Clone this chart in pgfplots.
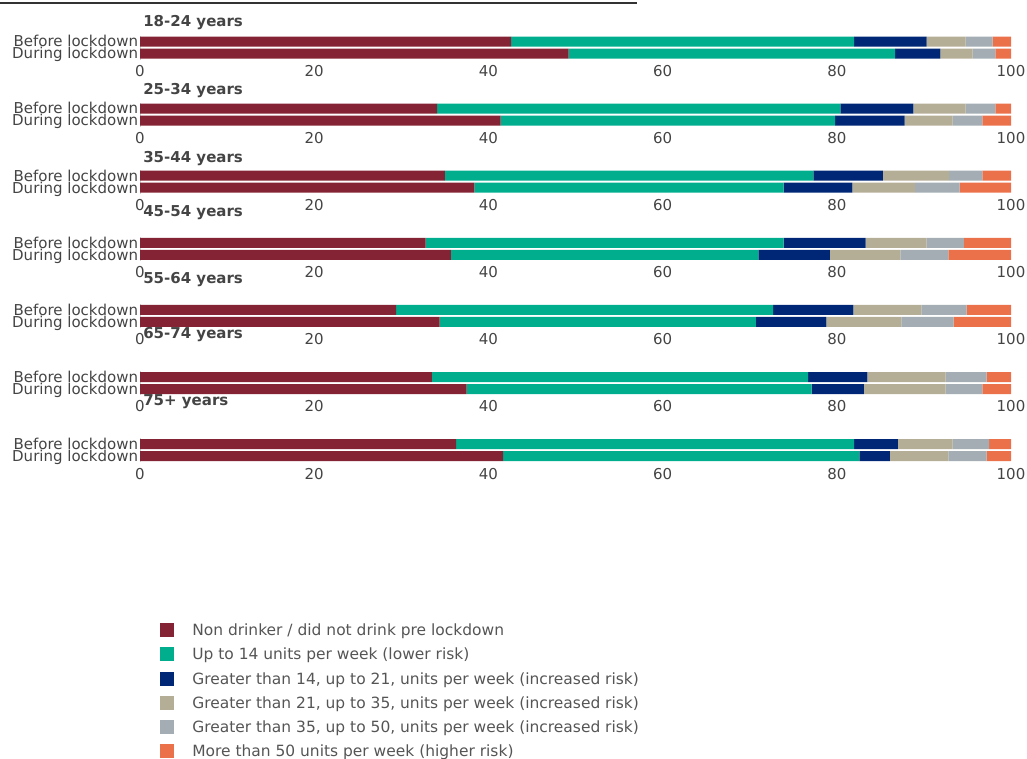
\documentclass[border=0pt]{standalone}
\usepackage{pgfplots}
\pgfplotsset{compat=1.18}
\usepackage{fontspec}
\setmainfont{DejaVu Sans}
\definecolor{cRed}{RGB}{132,35,51}
\definecolor{cGreen}{RGB}{0,174,142}
\definecolor{cNavy}{RGB}{0,39,118}
\definecolor{cTan}{RGB}{181,174,150}
\definecolor{cGrey}{RGB}{163,173,179}
\definecolor{cOrange}{RGB}{235,113,75}
\definecolor{txt}{RGB}{68,68,68}
\definecolor{legtxt}{RGB}{85,85,85}
\definecolor{topline}{RGB}{51,51,51}
\pgfplotsset{
  panel/.style={
    xbar stacked, scale only axis, width=653.25pt, height=18pt, anchor=north west,
    xmin=0, xmax=100, ymin=-0.5, ymax=1.5, bar width=7.5pt,
    ytick={0,1}, yticklabels={During lockdown,Before lockdown},
    xtick={0,20,40,60,80,100},
    axis y line*=left, axis x line*=bottom,
    x axis line style={draw=none}, y axis line style={draw=black!18, line width=0.75pt},
    major tick length=0pt, tick style={draw=none},
    /pgf/number format/assume math mode=true,
    ticklabel style={font=\fontsize{11.25}{13}\selectfont, text=txt},
    xticklabel style={anchor=center, yshift=-8.6pt, inner sep=0pt},
    yticklabel style={anchor=base east, inner sep=0pt, xshift=-1.2pt, yshift=-4pt},
    clip=false,
  },
}
\tikzset{ptitle/.style={anchor=base west, inner sep=0pt, font=\bfseries\fontsize{11.25}{13}\selectfont, text=txt}}
\begin{document}
\begin{tikzpicture}
\draw[line width=1.5pt, draw=topline] (0pt,-1.9pt) -- (477.75pt,-1.9pt);

% 18-24
\begin{axis}[panel, at={(105pt,-26.625pt)}]
\addplot[fill=cRed, draw=none] coordinates {(42.6,1) (49.2,0)};
\addplot[fill=cGreen, draw=none] coordinates {(39.4,1) (37.5,0)};
\addplot[fill=cNavy, draw=none] coordinates {(8.3,1) (5.2,0)};
\addplot[fill=cTan, draw=none] coordinates {(4.5,1) (3.7,0)};
\addplot[fill=cGrey, draw=none] coordinates {(3.1,1) (2.6,0)};
\addplot[fill=cOrange, draw=none] coordinates {(2.1,1) (1.8,0)};
\end{axis}

% 25-34
\begin{axis}[panel, at={(105pt,-76.95pt)}]
\addplot[fill=cRed, draw=none] coordinates {(34.1,1) (41.4,0)};
\addplot[fill=cGreen, draw=none] coordinates {(46.3,1) (38.4,0)};
\addplot[fill=cNavy, draw=none] coordinates {(8.4,1) (8.0,0)};
\addplot[fill=cTan, draw=none] coordinates {(6.0,1) (5.5,0)};
\addplot[fill=cGrey, draw=none] coordinates {(3.4,1) (3.4,0)};
\addplot[fill=cOrange, draw=none] coordinates {(1.8,1) (3.3,0)};
\end{axis}

% 35-44
\begin{axis}[panel, at={(105pt,-127.275pt)}]
\addplot[fill=cRed, draw=none] coordinates {(35.0,1) (38.4,0)};
\addplot[fill=cGreen, draw=none] coordinates {(42.3,1) (35.5,0)};
\addplot[fill=cNavy, draw=none] coordinates {(8.0,1) (7.9,0)};
\addplot[fill=cTan, draw=none] coordinates {(7.6,1) (7.2,0)};
\addplot[fill=cGrey, draw=none] coordinates {(3.8,1) (5.1,0)};
\addplot[fill=cOrange, draw=none] coordinates {(3.3,1) (5.9,0)};
\end{axis}

% 45-54
\begin{axis}[panel, at={(105pt,-177.6pt)}]
\addplot[fill=cRed, draw=none] coordinates {(32.8,1) (35.7,0)};
\addplot[fill=cGreen, draw=none] coordinates {(41.1,1) (35.3,0)};
\addplot[fill=cNavy, draw=none] coordinates {(9.4,1) (8.2,0)};
\addplot[fill=cTan, draw=none] coordinates {(7.0,1) (8.1,0)};
\addplot[fill=cGrey, draw=none] coordinates {(4.3,1) (5.5,0)};
\addplot[fill=cOrange, draw=none] coordinates {(5.4,1) (7.2,0)};
\end{axis}

% 55-64
\begin{axis}[panel, at={(105pt,-227.925pt)}]
\addplot[fill=cRed, draw=none] coordinates {(29.4,1) (34.4,0)};
\addplot[fill=cGreen, draw=none] coordinates {(43.3,1) (36.3,0)};
\addplot[fill=cNavy, draw=none] coordinates {(9.2,1) (8.1,0)};
\addplot[fill=cTan, draw=none] coordinates {(7.8,1) (8.6,0)};
\addplot[fill=cGrey, draw=none] coordinates {(5.2,1) (6.0,0)};
\addplot[fill=cOrange, draw=none] coordinates {(5.1,1) (6.6,0)};
\end{axis}

% 65-74
\begin{axis}[panel, at={(105pt,-278.25pt)}]
\addplot[fill=cRed, draw=none] coordinates {(33.5,1) (37.5,0)};
\addplot[fill=cGreen, draw=none] coordinates {(43.2,1) (39.6,0)};
\addplot[fill=cNavy, draw=none] coordinates {(6.8,1) (6.0,0)};
\addplot[fill=cTan, draw=none] coordinates {(9.0,1) (9.4,0)};
\addplot[fill=cGrey, draw=none] coordinates {(4.7,1) (4.2,0)};
\addplot[fill=cOrange, draw=none] coordinates {(2.8,1) (3.3,0)};
\end{axis}

% 75+
\begin{axis}[panel, at={(105pt,-328.575pt)},
  legend style={at={(axis description cs:0.02296,-6.704)}, anchor=north west,
    draw=none, fill=none, inner sep=0pt, column sep=13.5pt, row sep=6.4pt,
    font=\fontsize{11.6}{13}\selectfont, text=legtxt,
    nodes={inner sep=0pt, text height=8.5pt, text depth=2.5pt}},
  legend cell align=left,
  legend image code/.code={\fill[#1] (0pt,-4.25pt) rectangle (10.5pt,6.25pt);},
]
\addplot[fill=cRed, draw=none] coordinates {(36.3,1) (41.7,0)};
\addlegendentry{Non drinker / did not drink pre lockdown}
\addplot[fill=cGreen, draw=none] coordinates {(45.7,1) (40.9,0)};
\addlegendentry{Up to 14 units per week (lower risk)}
\addplot[fill=cNavy, draw=none] coordinates {(5.0,1) (3.5,0)};
\addlegendentry{Greater than 14, up to 21, units per week (increased risk)}
\addplot[fill=cTan, draw=none] coordinates {(6.3,1) (6.7,0)};
\addlegendentry{Greater than 21, up to 35, units per week (increased risk)}
\addplot[fill=cGrey, draw=none] coordinates {(4.2,1) (4.4,0)};
\addlegendentry{Greater than 35, up to 50, units per week (increased risk)}
\addplot[fill=cOrange, draw=none] coordinates {(2.5,1) (2.8,0)};
\addlegendentry{More than 50 units per week (higher risk)}
\end{axis}

\node[ptitle] at (107.25pt,-19.8pt) {18-24 years};
\node[ptitle] at (107.25pt,-70.8pt) {25-34 years};
\node[ptitle] at (107.25pt,-121.8pt) {35-44 years};
\node[ptitle] at (107.25pt,-162.3pt) {45-54 years};
\node[ptitle] at (107.25pt,-212.55pt) {55-64 years};
\node[ptitle] at (107.25pt,-253.8pt) {65-74 years};
\node[ptitle] at (107.25pt,-304.05pt) {75+ years};

\pgfresetboundingbox
\path[use as bounding box] (0pt,0pt) rectangle (770.25pt,-568.5pt);
\end{tikzpicture}
\end{document}
